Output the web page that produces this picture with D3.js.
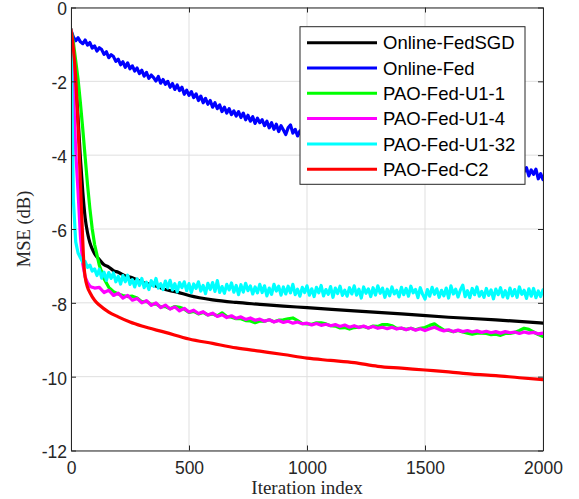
<!DOCTYPE html>
<html>
<head>
<meta charset="utf-8">
<script src="https://cdn.jsdelivr.net/npm/d3@7"></script>
<style>
body{margin:0;background:#fff}
svg{display:block}
</style>
</head>
<body>
<div id="chart"></div>
<script>
// iteration grids used by the series
const itersFine = d3.range(0, 2001, 10)
const itersMid = [0,10,20,30,40,50,60,70,80,90,100].concat(d3.range(120, 2001, 20))
const itersBlack = [0,10,20,30,40,50,60,70,80,90,100,120,140,160,180,200,230,260,300,350,400,450,500,600,700,800,900,1000,1200,1400,1600,1800,2000]
const itersRed = [0,10,20,30,40,50,55,60,70,80,100,120,160,200,250,300,400,500,600,700,800,900,1000,1100,1200,1300,1400,1500,1600,1700,1800,1900,2000]

const seriesNames = ['Online-FedSGD','Online-Fed','PAO-Fed-U1-1','PAO-Fed-U1-4','PAO-Fed-U1-32','PAO-Fed-C2']
const seriesColors = ['#000000','#0000ff','#00ff00','#ff00ff','#00ffff','#ff0000']

const onlineFedSGD = [-0.6,-1.2,-2.0,-3.0,-4.1,-5.0,-5.7,-6.1,-6.37,-6.54,-6.67,-6.83,-6.97,-7.03,-7.13,-7.17,-7.27,-7.32,-7.44,-7.52,-7.64,-7.71,-7.8,-7.92,-7.99,-8.04,-8.09,-8.13,-8.22,-8.3,-8.39,-8.46,-8.55]

const onlineFed = [-0.62,-0.80,-0.90,-0.82,-0.93,-0.98,-0.88,-1.02,-0.95,-1.10,-1.04,
-1.18,-1.09,-1.14,-1.27,-1.20,-1.36,-1.28,-1.33,-1.46,-1.40,
-1.55,-1.47,-1.62,-1.50,-1.66,-1.58,-1.72,-1.64,-1.79,-1.70,
-1.86,-1.76,-1.92,-1.83,-1.90,-1.99,-1.87,-2.05,-1.95,-2.08,
-2.00,-2.16,-2.06,-2.22,-2.10,-2.25,-2.16,-2.35,-2.24,-2.38,
-2.28,-2.44,-2.34,-2.52,-2.40,-2.58,-2.46,-2.62,-2.52,-2.70,
-2.58,-2.74,-2.64,-2.82,-2.70,-2.86,-2.74,-2.90,-2.80,-2.94,
-2.82,-2.98,-2.86,-3.04,-2.92,-3.08,-2.96,-3.14,-3.00,-3.12,
-3.04,-3.20,-3.08,-3.26,-3.12,-3.30,-3.16,-3.36,-3.20,-3.32,
-3.44,-3.26,-3.18,-3.40,-3.30,-3.48,-3.34,-3.50,-3.36,-3.46,
-3.46,-3.41,-3.50,-3.44,-3.52,-3.48,-3.55,-3.50,-3.58,-3.53,
-3.60,-3.56,-3.64,-3.58,-3.66,-3.62,-3.70,-3.64,-3.72,-3.67,
-3.74,-3.70,-3.78,-3.72,-3.80,-3.75,-3.83,-3.77,-3.85,-3.80,
-3.88,-3.82,-3.90,-3.85,-3.92,-3.87,-3.95,-3.89,-3.97,-3.92,
-3.99,-3.94,-4.02,-3.96,-4.04,-3.99,-4.06,-4.01,-4.08,-4.03,
-4.10,-4.05,-4.12,-4.07,-4.14,-4.09,-4.16,-4.11,-4.18,-4.13,
-4.20,-4.15,-4.22,-4.17,-4.24,-4.19,-4.26,-4.21,-4.28,-4.23,
-4.30,-4.25,-4.32,-4.27,-4.33,-4.28,-4.35,-4.30,-4.36,-4.31,
-4.38,-4.33,-4.40,-4.34,-4.41,-4.36,-4.43,-4.37,-4.44,-4.38,
-4.26,-4.45,-4.34,-4.56,-4.40,-4.52,-4.38,-4.64,-4.50,-4.66]

const paoU1_1 = [-0.6,-0.95,-1.45,-1.95,-2.6,-3.3,-4.05,-4.8,-5.45,-6.0,-6.42,
-6.98,-7.35,-7.58,-7.7,-7.76,-7.8,-7.83,-7.82,-7.87,-7.97,-7.96,-8.04,-8.03,-8.11,-8.10,
-8.16,-8.10,-8.12,-8.17,-8.26,-8.23,-8.30,-8.26,-8.33,-8.30,-8.35,-8.27,-8.37,-8.39,-8.43,
-8.43,-8.48,-8.49,-8.54,-8.49,-8.50,-8.46,-8.51,-8.47,-8.46,-8.43,-8.41,-8.48,-8.56,-8.57,
-8.58,-8.54,-8.54,-8.57,-8.62,-8.63,-8.68,-8.67,-8.71,-8.67,-8.66,-8.64,-8.68,-8.63,-8.64,
-8.59,-8.59,-8.62,-8.69,-8.69,-8.72,-8.69,-8.73,-8.69,-8.67,-8.61,-8.57,-8.66,-8.74,-8.75,
-8.78,-8.75,-8.79,-8.82,-8.85,-8.82,-8.82,-8.83,-8.86,-8.85,-8.88,-8.83,-8.83,-8.80,-8.75,
-8.69,-8.72,-8.79,-8.86,-8.91]

const paoU1_4 = [-0.6,-2.2,-3.9,-5.0,-6.2,-6.95,-7.3,-7.45,-7.55,-7.58,-7.6,
-7.58,-7.72,-7.66,-7.8,-7.74,-7.87,-7.8,-7.93,-7.88,-8.0,-7.94,-8.07,-8.0,-8.13,-8.06,
-8.17,-8.11,-8.22,-8.15,-8.25,-8.2,-8.29,-8.24,-8.33,-8.28,-8.37,-8.32,-8.4,-8.35,-8.42,
-8.38,-8.45,-8.41,-8.47,-8.44,-8.5,-8.46,-8.52,-8.48,-8.53,-8.5,-8.55,-8.52,-8.57,-8.55,
-8.6,-8.56,-8.61,-8.58,-8.62,-8.59,-8.64,-8.6,-8.66,-8.62,-8.67,-8.63,-8.68,-8.64,-8.69,
-8.66,-8.7,-8.66,-8.71,-8.68,-8.73,-8.69,-8.74,-8.7,-8.75,-8.7,-8.66,-8.72,-8.76,-8.73,
-8.78,-8.74,-8.78,-8.75,-8.79,-8.76,-8.8,-8.77,-8.81,-8.78,-8.82,-8.78,-8.81,-8.79,-8.83,
-8.79,-8.82,-8.8,-8.84,-8.82]

const paoU1_32 = [-0.60,-5.20,-6.35,-6.65,-6.78,-6.90,-6.88,-7.04,-6.98,-7.14,-7.08,
-7.26,-7.09,-7.33,-7.17,-7.39,-7.18,-7.34,-7.19,-7.43,-7.28,
-7.49,-7.26,-7.43,-7.25,-7.50,-7.37,-7.57,-7.35,-7.53,-7.34,
-7.59,-7.44,-7.64,-7.40,-7.55,-7.34,-7.60,-7.48,-7.64,-7.41,
-7.60,-7.39,-7.65,-7.48,-7.70,-7.45,-7.59,-7.43,-7.67,-7.48,
-7.72,-7.49,-7.61,-7.43,-7.68,-7.53,-7.75,-7.47,-7.64,-7.45,
-7.69,-7.40,-7.72,-7.56,-7.74,-7.50,-7.65,-7.46,-7.71,-7.53,
-7.78,-7.51,-7.71,-7.47,-7.67,-7.54,-7.76,-7.57,-7.73,-7.50,
-7.72,-7.54,-7.81,-7.60,-7.77,-7.50,-7.68,-7.55,-7.79,-7.57,
-7.76,-7.55,-7.73,-7.50,-7.78,-7.63,-7.82,-7.58,-7.72,-7.54,
-7.79,-7.62,-7.83,-7.58,-7.73,-7.53,-7.81,-7.64,-7.77,-7.56,
-7.85,-7.60,-7.75,-7.55,-7.80,-7.66,-7.82,-7.59,-7.76,-7.54,
-7.79,-7.63,-7.87,-7.57,-7.74,-7.62,-7.83,-7.59,-7.79,-7.54,
-7.74,-7.60,-7.85,-7.63,-7.81,-7.57,-7.76,-7.66,-7.84,-7.58,
-7.78,-7.61,-7.82,-7.55,-7.73,-7.64,-7.86,-7.59,-7.77,-7.90,
-7.64,-7.82,-7.58,-7.77,-7.62,-7.85,-7.66,-7.81,-7.60,-7.87,
-7.54,-7.76,-7.63,-7.84,-7.65,-7.52,-7.83,-7.67,-7.86,-7.61,
-7.78,-7.57,-7.82,-7.69,-7.85,-7.61,-7.80,-7.65,-7.89,-7.63,
-7.78,-7.59,-7.84,-7.67,-7.87,-7.60,-7.81,-7.64,-7.85,-7.57,
-7.77,-7.66,-7.88,-7.62,-7.82,-7.61,-7.86,-7.68,-7.83,-7.65]

const paoC2 = [-0.6,-1.1,-1.9,-3.2,-4.75,-6.35,-7.0,-7.3,-7.58,-7.72,-7.93,-8.06,-8.25,-8.38,-8.52,-8.63,-8.8,-8.98,-9.1,-9.22,-9.31,-9.4,-9.5,-9.56,-9.62,-9.72,-9.77,-9.82,-9.87,-9.93,-9.97,-10.03,-10.08]

const xTicks = [0,500,1000,1500,2000]
const yTicks = [-12,-10,-8,-6,-4,-2,0]

let w=579, h=499
let m={left:71, right:36, top:7.5, bottom:48.5}

let xScale=d3.scaleLinear().domain([0,2000]).range([m.left, w-m.right])
let yScale=d3.scaleLinear().domain([-12,0]).range([h-m.bottom, m.top])

let svg=d3.select('#chart').append('svg').attr('width',w).attr('height',h)
svg.append('rect').attr('width',w).attr('height',h).attr('fill','#fff')

svg.append('clipPath').attr('id','clip').append('rect')
  .attr('x',m.left).attr('y',m.top).attr('width',w-m.left-m.right).attr('height',h-m.top-m.bottom)

// grid
let grid=svg.append('g')
grid.selectAll('.gx').data(xTicks).enter().append('line')
  .attr('x1',d=>xScale(d)).attr('x2',d=>xScale(d)).attr('y1',m.top).attr('y2',h-m.bottom)
  .attr('stroke','#dfdfdf').attr('stroke-width',1)
grid.selectAll('.gy').data(yTicks).enter().append('line')
  .attr('y1',d=>yScale(d)).attr('y2',d=>yScale(d)).attr('x1',m.left).attr('x2',w-m.right)
  .attr('stroke','#dfdfdf').attr('stroke-width',1)

// series
let series=[
  {x:itersBlack, y:onlineFedSGD, curve:d3.curveMonotoneX},
  {x:itersFine, y:onlineFed, curve:d3.curveLinear},
  {x:itersMid, y:paoU1_1, curve:d3.curveLinear},
  {x:itersMid, y:paoU1_4, curve:d3.curveLinear},
  {x:itersFine, y:paoU1_32, curve:d3.curveLinear},
  {x:itersRed, y:paoC2, curve:d3.curveMonotoneX}
]
let plot=svg.append('g').attr('clip-path','url(#clip)')
series.forEach((s,i)=>{
  let line=d3.line().x((d,j)=>xScale(s.x[j])).y(d=>yScale(d)).curve(s.curve)
  plot.append('path').datum(s.y).attr('d',line)
    .attr('fill','none').attr('stroke',seriesColors[i]).attr('stroke-width',3.2)
    .attr('stroke-linejoin','round').attr('stroke-linecap','round')
})

// axes (box with inward ticks)
const font='"Liberation Sans", Arial, Helvetica, sans-serif'
let fmt=d=>String(d)
let xAxis=d3.axisBottom(xScale).tickValues(xTicks).tickFormat(fmt).tickSizeInner(-5).tickSizeOuter(0).tickPadding(11)
let yAxis=d3.axisLeft(yScale).tickValues(yTicks).tickFormat(fmt).tickSizeInner(-5).tickSizeOuter(0).tickPadding(4)
let gx=svg.append('g').attr('transform','translate(0,'+(h-m.bottom)+')').call(xAxis)
let gy=svg.append('g').attr('transform','translate('+m.left+',0)').call(yAxis)
gy.selectAll('text').attr('dy','0.42em')
svg.append('g').attr('transform','translate(0,'+m.top+')')
  .call(d3.axisTop(xScale).tickValues(xTicks).tickSizeInner(-5).tickSizeOuter(0).tickFormat(''))
svg.append('g').attr('transform','translate('+(w-m.right)+',0)')
  .call(d3.axisRight(yScale).tickValues(yTicks).tickSizeInner(-5).tickSizeOuter(0).tickFormat(''))
svg.selectAll('.domain').attr('stroke','#262626').attr('stroke-width',1)
svg.selectAll('.tick line').attr('stroke','#262626')
svg.selectAll('.tick text').attr('fill','#262626').style('font-family',font).style('font-size','17.5px')

// axis labels
svg.append('text').text('Iteration index')
  .attr('x',(m.left+w-m.right)/2).attr('y',494).attr('text-anchor','middle')
  .style('font-family','"Liberation Serif", "Times New Roman", serif').style('font-size','19px').attr('fill','#262626')
svg.append('text').text('MSE (dB)')
  .attr('transform','translate(30,'+((m.top+h-m.bottom)/2)+') rotate(-90)').attr('text-anchor','middle')
  .style('font-family','"Liberation Serif", "Times New Roman", serif').style('font-size','18.5px').attr('fill','#262626')

// legend
let lg=svg.append('g')
lg.append('rect').attr('x',300).attr('y',26.7).attr('width',225).attr('height',157.6)
  .attr('fill','#fff').attr('stroke','#262626').attr('stroke-width',1)
seriesNames.forEach((name,i)=>{
  let yy=42.7+i*25.3
  lg.append('line').attr('x1',307).attr('x2',377).attr('y1',yy).attr('y2',yy)
    .attr('stroke',seriesColors[i]).attr('stroke-width',3)
  lg.append('text').text(name).attr('x',383).attr('y',yy).attr('dy','0.36em')
    .style('font-family',font).style('font-size','18.5px').attr('fill','#000')
})
</script>
</body>
</html>
